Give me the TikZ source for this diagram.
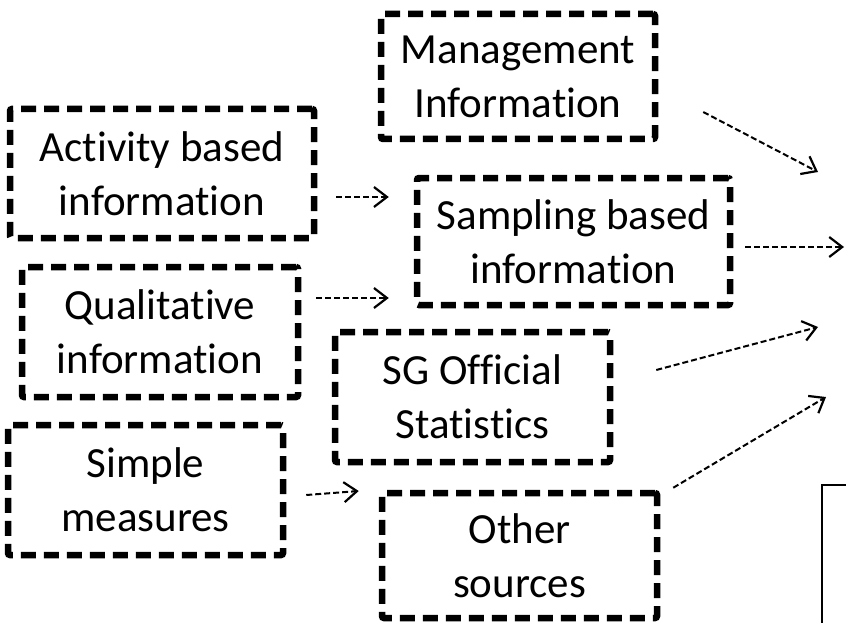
\documentclass[tikz,border=0pt]{standalone}
\usepackage{fontspec}
\setmainfont{Carlito}[Ligatures={NoCommon,NoRequired,NoContextual}]
\usetikzlibrary{arrows.meta,calc}

\begin{document}
\begin{tikzpicture}[x=1pt, y=-1pt,
  srcbox/.style={draw, line width=6.5pt, dash pattern=on 15pt off 8pt,
    rounded corners=2pt, align=center, inner sep=0pt,
    font=\fontsize{43}{54}\selectfont},
  flow/.style={line width=2pt, dash pattern=on 6pt off 3pt,
    -{Straight Barb[length=13pt, width=20pt, line width=2.2pt]}}]

\useasboundingbox (0, 0) rectangle (846, 623);

% source boxes
\node[srcbox, minimum width=274, minimum height=125] (mgmt) at (518, 76.5) {Management\\Information};
\node[srcbox, minimum width=304, minimum height=129] (act) at (162, 173.5) {Activity based\\information};
\node[srcbox, minimum width=313, minimum height=127] (samp) at (573.5, 241.5) {Sampling based\\information};
\node[srcbox, minimum width=276, minimum height=130] (qual) at (160, 332) {Qualitative\\information};
\node[srcbox, minimum width=275, minimum height=130] (sgstat) at (472.5, 397) {SG Official\\Statistics};
\node[srcbox, minimum width=275, minimum height=130] (simple) at (145.5, 490) {Simple\\measures};
\node[srcbox, minimum width=275, minimum height=125] (other) at (519.5, 555.5) {Other\\sources};

% free ends on the right
\coordinate (in1) at (818, 172);
\coordinate (in2) at (844, 247);
\coordinate (in3) at (818, 327);
\coordinate (in4) at (826, 397);

% feeding arrows
\draw[flow] ($(act.east)+(19, 23.5)$) -- ($(samp.west)+(-25, -44.5)$);
\draw[flow] ($(qual.east)+(15, -34)$) -- ($(samp.west)+(-25, 56.5)$);
\draw[flow] ($(simple.east)+(20, 5)$) -- ($(other.west)+(-20, -64.5)$);

\draw[flow] ($(mgmt.east)+(45, 35.5)$) -- (in1);
\draw[flow] ($(samp.east)+(12, 5.5)$) -- (in2);
\draw[flow] ($(sgstat.east)+(43, -27)$) -- (in3);
\draw[flow] ($(other.north east)+(13, -2)$) -- (in4);

% cut-off box at bottom right
\draw[line width=2pt] (822, 623) |- (846, 485);

\end{tikzpicture}
\end{document}
